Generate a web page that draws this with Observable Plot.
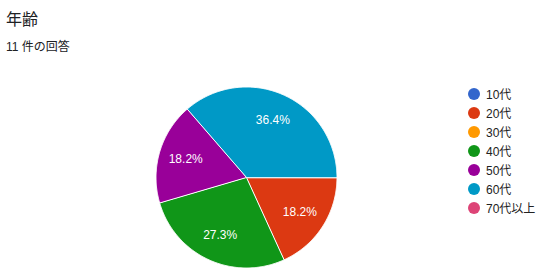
<!DOCTYPE html>
<html><head><meta charset="utf-8">
<script src="https://cdn.jsdelivr.net/npm/d3@7"></script>
<script src="https://cdn.jsdelivr.net/npm/@observablehq/plot@0.6"></script>
<style>
body{margin:0;background:#fff;font-family:"Liberation Sans",Arial,"Noto Sans CJK JP",sans-serif;}
#wrap{position:relative;width:539px;height:278px;overflow:hidden;}
#title{position:absolute;left:6px;top:6px;font-size:16px;color:#202124;}
#sub{position:absolute;left:6px;top:37px;font-size:12px;color:#202124;}
#legend{position:absolute;left:468px;top:84px;font-size:12px;color:#222;}
.row{height:19.05px;display:flex;align-items:center;}
.sw{width:12px;height:12px;border-radius:50%;margin-right:6px;}
#chart{position:absolute;left:0;top:0;}
</style></head>
<body><div id="wrap">
<div id="chart"></div>
<div id="title">年齢</div>
<div id="sub">11 件の回答</div>
<div id="legend"></div>
</div>
<script>
const categories = ["10代","20代","30代","40代","50代","60代","70代以上"];
const counts = [0, 2, 0, 3, 2, 4, 0];
const colors = ["#3366cc","#dc3912","#ff9900","#109618","#990099","#0099c6","#dd4477"];
const total = d3.sum(counts);

const arcs = d3.pie().sort(null).startAngle(Math.PI/2).endAngle(Math.PI/2 + 2*Math.PI)(counts);
const pts = [];
const labels = [];
arcs.forEach((a, i) => {
  if (a.value === 0) return;
  const cat = categories[i];
  pts.push({cat, x: 0, y: 0});
  const n = Math.max(2, Math.ceil((a.endAngle - a.startAngle) / 0.01));
  for (let k = 0; k <= n; k++) {
    const t = a.startAngle + (a.endAngle - a.startAngle) * k / n;
    pts.push({cat, x: Math.sin(t), y: Math.cos(t)});
  }
  const m = (a.startAngle + a.endAngle) / 2;
  labels.push({cat, x: 0.7 * Math.sin(m), y: 0.7 * Math.cos(m), text: (a.value / total * 100).toFixed(1) + "%"});
});

const cx = 246, cy = 177, r = 90.5;
const chart = Plot.plot({
  width: 539, height: 278,
  margin: 0,
  x: {domain: [-1, 1], range: [cx - r, cx + r], axis: null},
  y: {domain: [-1, 1], range: [cy + r, cy - r], axis: null},
  color: {domain: categories, range: colors},
  style: {background: "transparent"},
  marks: [
    Plot.line(pts, {x: "x", y: "y", z: "cat", fill: "cat", stroke: "white", strokeWidth: 1, curve: "linear-closed"}),
    Plot.text(labels, {x: "x", y: "y", text: "text", fill: "white", fontSize: 12, fontFamily: "Liberation Sans, Arial, sans-serif"})
  ]
});
document.getElementById("chart").appendChild(chart);

const lg = document.getElementById("legend");
categories.forEach((c, i) => {
  const row = document.createElement("div");
  row.className = "row";
  const sw = document.createElement("span");
  sw.className = "sw";
  sw.style.background = colors[i];
  const tx = document.createElement("span");
  tx.textContent = c;
  row.appendChild(sw); row.appendChild(tx);
  lg.appendChild(row);
});
</script>
</body></html>
